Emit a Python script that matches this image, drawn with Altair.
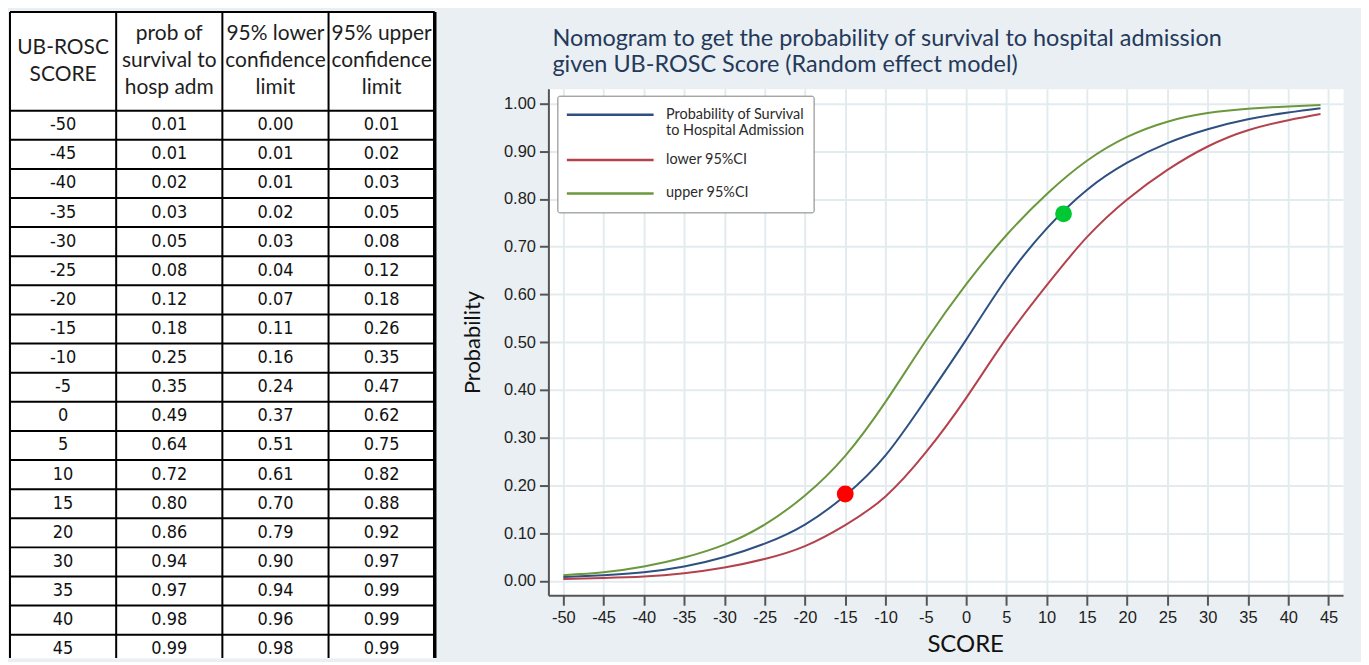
import altair as alt
import pandas as pd

# ---------------- table values ----------------
tab_score = [-50, -45, -40, -35, -30, -25, -20, -15, -10, -5, 0, 5, 10, 15, 20, 30, 35, 40, 45]
tab_prob = [0.01, 0.01, 0.02, 0.03, 0.05, 0.08, 0.12, 0.18, 0.25, 0.35, 0.49, 0.64, 0.72, 0.80, 0.86, 0.94, 0.97, 0.98, 0.99]
tab_lower = [0.00, 0.01, 0.01, 0.02, 0.03, 0.04, 0.07, 0.11, 0.16, 0.24, 0.37, 0.51, 0.61, 0.70, 0.79, 0.90, 0.94, 0.96, 0.98]
tab_upper = [0.01, 0.02, 0.03, 0.05, 0.08, 0.12, 0.18, 0.26, 0.35, 0.47, 0.62, 0.75, 0.82, 0.88, 0.92, 0.97, 0.99, 0.99, 0.99]
tab_headers = [
    ["UB-ROSC", "SCORE"],
    ["prob of", "survival to", "hosp adm"],
    ["95% lower", "confidence", "limit"],
    ["95% upper", "confidence", "limit"],
]

# ---------------- curve values ----------------
curve_score = [-50, -45, -40, -35, -30, -25, -20, -15, -10, -5, 0, 5, 10, 15, 20, 25, 30, 35, 40, 44]
curve_prob = [0.008, 0.012, 0.018, 0.030, 0.050, 0.078, 0.118, 0.179, 0.263, 0.380, 0.505, 0.633,
              0.738, 0.819, 0.876, 0.917, 0.946, 0.967, 0.981, 0.990]
curve_lower = [0.004, 0.006, 0.009, 0.016, 0.028, 0.046, 0.073, 0.117, 0.177, 0.269, 0.383, 0.508,
               0.619, 0.720, 0.799, 0.861, 0.910, 0.944, 0.965, 0.978]
curve_upper = [0.012, 0.018, 0.030, 0.049, 0.076, 0.118, 0.179, 0.262, 0.375, 0.503, 0.621, 0.724,
               0.810, 0.880, 0.930, 0.962, 0.980, 0.989, 0.994, 0.997]
series_names = ["Probability of Survival|to Hospital Admission", "lower 95%CI", "upper 95%CI"]
series_colors = ["#2e5080", "#b3424d", "#6b983d"]

marker_score = [-15, 12.1]
marker_prob = [0.182, 0.769]
marker_colors = ["#ff0000", "#00c832"]

title_lines = ["Nomogram to get the probability of survival to hospital admission",
               "given UB-ROSC Score (Random effect model)"]

x_ticks = list(range(-50, 50, 5))
y_ticks = [round(i * 0.05, 2) for i in range(21)]

# ---------------- layout ----------------
ROW_PX = 29.2
TABLE_W = 426
TABLE_H = 648
HEADER_ROWS = 99 / ROW_PX
Y_MAX = TABLE_H / ROW_PX
HEADER_LINE = 27 / ROW_PX

cells = []
for i, s in enumerate(tab_score):
    vals = [str(s), "%.2f" % tab_prob[i], "%.2f" % tab_lower[i], "%.2f" % tab_upper[i]]
    for c, v in enumerate(vals):
        cells.append({"cx": c + 0.5, "cy": HEADER_ROWS + i + 0.5, "txt": v})
cells = pd.DataFrame(cells)

heads = []
for c, lines in enumerate(tab_headers):
    n = len(lines)
    for j, t in enumerate(lines):
        heads.append({"cx": c + 0.5, "cy": HEADER_ROWS / 2 + (j - (n - 1) / 2) * HEADER_LINE, "txt": t})
heads = pd.DataFrame(heads)

hr = [0, HEADER_ROWS] + [HEADER_ROWS + k for k in range(1, len(tab_score))]
hrules = pd.DataFrame({"y": hr, "y2": hr, "x": [0] * len(hr), "x2": [4] * len(hr)})
vrules = pd.DataFrame({"x": [0, 1, 2, 3, 4], "x2": [0, 1, 2, 3, 4], "y": [0] * 5, "y2": [Y_MAX] * 5,
                       "w": [2, 2, 2, 2, 3.5]})

xs = alt.Scale(domain=[0, 4], nice=False, zero=False)
ys = alt.Scale(domain=[0, Y_MAX], nice=False, zero=False, reverse=True)

t_h = alt.Chart(hrules).mark_rule(color="#000000", strokeWidth=2).encode(
    x=alt.X("x:Q", scale=xs, axis=None), x2="x2",
    y=alt.Y("y:Q", scale=ys, axis=None), y2="y2")
t_v = alt.Chart(vrules).mark_rule(color="#000000").encode(
    x=alt.X("x:Q", scale=xs, axis=None), x2="x2",
    y=alt.Y("y:Q", scale=ys, axis=None), y2="y2",
    strokeWidth=alt.StrokeWidth("w:Q", scale=None))
t_head = alt.Chart(heads).mark_text(font="Lato", fontSize=21, color="#1e1e1e", baseline="middle").encode(
    x=alt.X("cx:Q", scale=xs, axis=None), y=alt.Y("cy:Q", scale=ys, axis=None), text="txt:N")
t_cell = alt.Chart(cells).mark_text(font="DejaVu Sans Condensed, DejaVu Sans", fontSize=18,
                                    color="#111111", baseline="middle").encode(
    x=alt.X("cx:Q", scale=xs, axis=None), y=alt.Y("cy:Q", scale=ys, axis=None), text="txt:N")

table = alt.layer(t_h, t_v, t_head, t_cell).properties(width=TABLE_W, height=TABLE_H)

# ---------------- nomogram ----------------
rows = []
for name, vals in zip(series_names, [curve_prob, curve_lower, curve_upper]):
    for s, v in zip(curve_score, vals):
        rows.append({"score": s, "p": v, "series": name})
curves = pd.DataFrame(rows)
markers = pd.DataFrame({"score": marker_score, "p": marker_prob, "col": marker_colors})

sx = alt.Scale(domain=[-51.85, 46.8], nice=False, zero=False)
sy = alt.Scale(domain=[-0.03, 1.031], nice=False, zero=False)

x_axis = alt.Axis(values=x_ticks, labelExpr="'' + datum.value", title="SCORE", titleFontSize=24,
                  titlePadding=7, titleX=418, tickSize=10, labelPadding=4, labelOverlap=False)
y_axis = alt.Axis(values=y_ticks, format=".2f", title="Probability", titleFontSize=22,
                  titlePadding=19, tickSize=9, labelPadding=4, labelOverlap=False)

lines = alt.Chart(curves).mark_line(strokeWidth=2, interpolate="natural").encode(
    x=alt.X("score:Q", scale=sx, axis=x_axis),
    y=alt.Y("p:Q", scale=sy, axis=y_axis),
    color=alt.Color("series:N", scale=alt.Scale(domain=series_names, range=series_colors),
                    legend=alt.Legend(orient="none", legendX=549, legendY=84, title=None,
                                      fillColor="white", strokeColor="#808080", padding=8,
                                      cornerRadius=2, symbolType="stroke", symbolSize=7569,
                                      symbolStrokeWidth=2.5, clipHeight=22, rowPadding=11.5,
                                      labelOffset=11, labelFont="Lato", labelFontSize=14.5,
                                      labelColor="#2b2b2b", labelLimit=400,
                                      labelExpr="split(datum.label, '|')")),
)
dots = alt.Chart(markers).mark_circle(size=285, opacity=1).encode(
    x=alt.X("score:Q", scale=sx), y=alt.Y("p:Q", scale=sy),
    color=alt.Color("col:N", scale=None))

nomo = alt.layer(lines, dots).properties(width=797, height=508)

# title holder: an empty, transparent strip whose title sits below it
title_strip = alt.Chart(pd.DataFrame({"v": []})).mark_point(opacity=0).encode(
    x=alt.X("v:Q", axis=None), y=alt.Y("v:Q", axis=None)
).properties(
    width=797, height=1,
    view=alt.ViewBackground(fill="transparent", stroke="transparent"),
    title=alt.TitleParams(text=title_lines, orient="bottom", anchor="start", frame="group",
                          font="Lato", fontSize=23.5, lineHeight=26, fontWeight="normal",
                          color="#25395a", dx=4, offset=14.4),
)

right = alt.vconcat(title_strip, nomo, spacing=10)

chart = alt.hconcat(table, right, spacing=23).properties(
    padding={"left": 0, "top": 0, "right": 17, "bottom": 0},
    background="#e9eff2",
).configure_view(fill="white", stroke="transparent").configure_axis(
    labelFont="Liberation Sans", labelFontSize=16.5, labelColor="#1e1e1e",
    titleFont="Lato", titleFontWeight="normal", titleColor="#111111",
    domainColor="#555555", tickColor="#555555", domainWidth=2, tickWidth=2,
    gridColor="#e3ebef", gridWidth=2,
)

chart.save("out.html", embed_options={"renderer": "svg", "actions": False})
